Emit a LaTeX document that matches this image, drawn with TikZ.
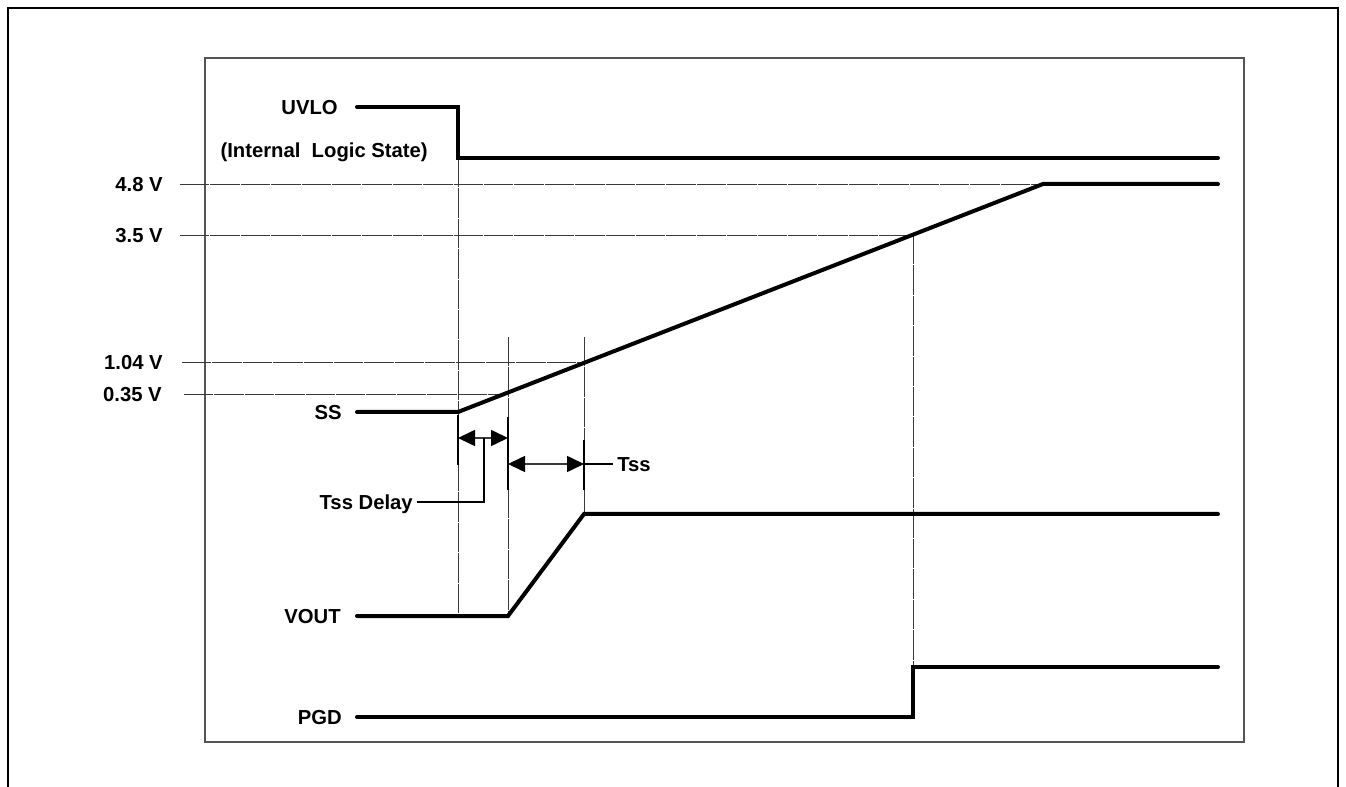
\documentclass[tikz,border=0pt]{standalone}
\usepackage{fontspec}
\setmainfont{Liberation Sans}
\usetikzlibrary{arrows.meta}
\definecolor{guidegray}{HTML}{3A3A3A}
\definecolor{framegray}{HTML}{555555}

\tikzset{
    wave/.style={line width=3pt, line cap=round, line join=miter},
    guide/.style={color=guidegray, line width=0.7pt, dash pattern=on 22pt off 0.8pt},
    extline/.style={line width=1.5pt},
    leader/.style={line width=1.2pt},
    dimarrow/.style={line width=1.2pt, color=guidegray,
        {Triangle[length=12.75pt, width=12pt, color=black]}-{Triangle[length=12.75pt, width=12pt, color=black]}},
    sig/.style={font=\fontsize{15.2}{18}\selectfont\bfseries, inner sep=0pt,
        text height=10.9pt, text depth=0pt, anchor=east}
}

\begin{document}
\begin{tikzpicture}[x=0.75pt, y=-0.75pt]

    \useasboundingbox (0,0) rectangle (1346,787);
    \clip (0,0) rectangle (1346,787);

    % Outer frame
    \draw[line width=2.2pt] (8,8) rectangle (1338,800);
    % Inner frame
    \draw[color=framegray, line width=1pt] (205,58) rectangle (1244,742);

    % Signal names
    \node[sig] (uvlo) at (338,107) {UVLO};
    \node[sig] (logic) at (428,150) {(Internal\ \ Logic State)};
    \node[sig] (ss) at (342,412) {SS};
    \node[sig] (vout) at (341,616) {VOUT};
    \node[sig] (pgd) at (342,717) {PGD};

    % Voltage levels
    \node[sig] (lvA) at (163,184) {4.8 V};
    \node[sig] (lvB) at (163,235) {3.5 V};
    \node[sig] (lvC) at (163,362) {1.04 V};
    \node[sig] (lvD) at (162,394) {0.35 V};

    % Horizontal guides at the levels
    \draw[guide] (180,184) -- (1043,184);
    \draw[guide] (180,235) -- (913,235);
    \draw[guide] (182,362) -- (584,362);
    \draw[guide] (184,394) -- (508,394);

    % Vertical guides
    \draw[guide] (458,158) -- (458,616);
    \draw[guide] (508,337) -- (508,616);
    \draw[guide] (584,337) -- (584,514);
    \draw[guide] (913,235) -- (913,667);

    % Waveforms
    \draw[wave] (357,107) -- (458,107) -- (458,158) -- (1218,158);
    \draw[wave] (357,412) -- (458,412) -- (1043,184) -- (1218,184);
    \draw[wave] (357,616) -- (508,616) -- (584,514) -- (1218,514);
    \draw[wave] (357,717) -- (913,717) -- (913,667) -- (1218,667);

    % Extension lines of the delays
    \draw[extline] (458,415) -- (458,465);
    \draw[extline] (508,417) -- (508,490);
    \draw[extline] (584,440) -- (584,490);

    % Delay arrows
    \draw[dimarrow] (458,438) -- (508,438);
    \draw[dimarrow] (508,464) -- (584,464);

    % Delay labels
    \node[sig] (tssdly) at (413,502) {Tss Delay};
    \node[sig, anchor=west] (tss) at (617,464) {Tss};
    \draw[leader] (484,438) |- ([xshift=3pt]tssdly.east);
    \draw[leader] (584,464) -- ([xshift=-3pt]tss.west);

\end{tikzpicture}
\end{document}
